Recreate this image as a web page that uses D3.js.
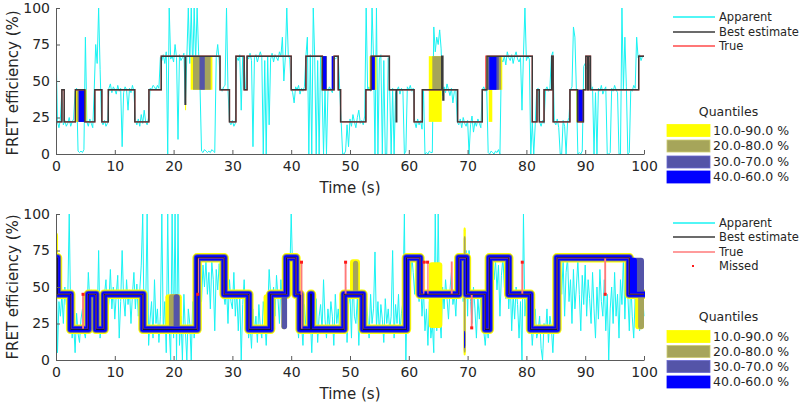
<!DOCTYPE html>
<html><head><meta charset="utf-8">
<script src="https://cdn.jsdelivr.net/npm/d3@7"></script>
<style>
body{margin:0;background:#fff}
svg{display:block}
text{font-family:"DejaVu Sans",sans-serif;fill:#262626}
</style>
</head><body>
<svg id="chart" width="800" height="404"></svg>
<script>
// ---------- data ----------
const timeTicks = [0,10,20,30,40,50,60,70,80,90,100];
const effTicks = [0,25,50,75,100];
const sampleStep = 0.25; // seconds between apparent samples

const topApparent = [
75,22,18,24, 44,20,23,19, 21,25,19,22, 24,43,45,2, 1,2,1,3, 80,22,19,24, 21,18,44,75, 62,100,58,22, 20,23,19,21, 45,48,42,46,
44,41,47,43, 45,5,42,46, 44,30,45,42, 47,43,23,20, 24,19,27,21, 30,22,20,25, 45,44,47,46, 44,47,45,66, 64,68,62,70, 0,100,65,67,
63,75,66,10, 68,64,66,69, 35,66,100,62, 100,58,100,64, 100,70,45,2, 1,3,2,1, 2,1,3,2, 1,66,75,64, 45,43,46,47, 100,44,22,20,
23,19,21,66, 64,68,30,67, 44,45,67,65, 69,64,5,66, 68,63,67,70, 66,0,64,0, 67,20,65,69, 63,68,66,64, 70,67,80,50, 66,100,68,65,
45,42,35,46, 44,47,41,45, 43,46,67,80, 0,68,0,100, 66,0,64,0, 67,44,0,45, 0,43,46,44, 42,67,65,66, 67,44,22,0, 0,2,20,5,
24,19,27,22, 18,25,30,21, 23,20,26,100, 44,46,43,100, 66,0,100,0, 65,68,0,64, 0,0,66,44, 0,45,0,42, 44,46,41,45, 43,0,2,46,
44,47,43,45, 22,18,24,20, 23,17,44,0, 1,0,2,1, 1,87,70,80, 75,85,72,40, 46,42,48,44, 40,45,35,43, 44,22,20,24, 18,25,21,19,
23,0,20,26, 15,22,19,24, 21,18,44,46, 43,44,1,0, 2,1,0,2, 1,3,0,65, 63,67,61,70, 66,64,68,62, 67,70,65,63, 66,30,68,100,
64,67,65,0, 22,0,20,44, 45,22,19,23, 21,44,46,43, 45,67,70,22, 20,24,18,0, 0,23,19,0, 22,25,44,46, 87,80,44,0, 1,0,2,60,
62,58,66,60, 44,46,0,42, 0,45,43,47, 41,44,46,0, 0,1,45,43, 47,44,42,0, 0,100,44,80, 46,0,1,44, 43,47,45,80, 66,68,64,67,
67];

const bottomApparent = [
85,5,40,30, 45,25,50,38, 42,100,30,15, 25,5,32,18, 12,28,35,20, 15,30,60,40, 48,35,45,20, 25,75,15,28, 22,45,55,30, 40,62,35,50,
28,45,58,15, 40,75,42,30, 55,38,48,25, 45,60,35,52, 30,48,65,100, 20,35,100,10, 28,40,15,55, 25,35,12,30, 100,18,40,5, 100,22,0,100,
15,100,0,100, 10,30,0,45, 20,0,35,25, 0,40,15,30, 45,67,55,40, 65,50,68,45, 60,35,67,55, 20,62,48,66, 52,65,45,38, 50,25,55,40,
35,60,30,48, 20,45,0,38, 55,30,42,15, 25,8,35,18, 30,12,38,22, 15,40,28,10, 32,62,45,35, 50,30,58,42, 25,55,38,48, 30,65,70,55,
100,60,45,68, 30,15,40,25, 10,38,22,45, 18,30,5,35, 25,42,12,30, 38,20,55,28, 15,35,22,40, 30,10,45,25, 35,18,28,42, 22,50,12,38,
45,15,60,30, 25,42,10,35, 48,28,20,40, 30,15,45,25, 35,74,22,40, 18,38,28,12, 42,25,35,20, 30,75,15,38, 25,45,18,32, 40,100,0,55,
65,50,72,60, 45,68,55,40, 55,30,48,20, 35,10,40,15, 25,5,100,20, 100,30,15,50, 35,55,42,28, 48,60,38,45, 30,55,65,50, 70,40,60,75,
30,75,40,25, 50,35,15,42, 28,45,38,20, 10,25,15,45, 60,72,55,68, 48,65,30,58, 70,50,42,65, 35,55,20,45, 28,50,38,15, 40,0,100,30,
45,25,18,30, 10,25,35,15, 20,30,8,0, 25,18,35,12, 30,22,5,28, 40,65,55,70, 45,68,30,60, 70,40,55,25, 62,35,50,68, 45,20,58,38,
65,30,55,42, 25,60,35,15, 50,28,62,40, 30,55,20,45, 0,35,50,25, 60,30,45,15, 55,38,70,28, 62,45,20,55, 30,15,42,25, 48,20,35,45,
30];

// step functions: change times and levels
const topBestT = [0,1.0,1.4,3.3,4.9,6.6,7.8,8.9,13.4,15.8,17.9,21.95,22.05,27.9,29.5,30.6,32.0,32.5,40.0,42.5,45.3,47.3,48.0,48.4,52.7,53.6,56.7,57.85,57.95,60.9,62.3,65.6,65.8,65.95,68.3,72.5,73.3,81.0,81.8,82.2,83.0,84.3,84.55,87.4,88.7,89.7,90.1,90.4,90.6,90.9,99.1];
const topBestV = [22,44,22,44,22,44,22,44,22,44,67,34,67,44,22,67,44,67,44,67,44,67,44,22,44,67,44,22,44,22,44,67,37,44,22,44,67,22,44,22,44,67,22,44,22,44,67,44,67,44,67];
const topTrueT = [0,1.0,1.4,3.3,4.9,6.6,7.8,8.9,13.4,15.8,17.9,27.9,29.5,30.6,32.0,32.5,40.0,42.5,45.3,47.3,48.0,48.4,52.7,53.6,56.7,60.9,62.3,68.3,72.5,73.1,81.0,81.8,82.2,83.0,84.3,84.55,87.4,88.7,89.7,90.1,90.4,90.6,90.9,99.1];
const topTrueV = [22,44,22,44,22,44,22,44,22,44,67,44,22,67,44,67,44,67,44,67,44,22,44,67,44,22,44,22,44,67,22,44,22,44,67,22,44,22,44,67,44,67,44,67];

const bottomBestT = [0,0.25,2.5,5.5,6.8,8.2,14.8,24.0,28.6,32.8,36.5,39.2,40.8,41.5,43.3,43.45,49.0,52.2,59.6,61.9,68.5,69.8,73.0,73.7,77.0,80.7,85.2,97.5];
const bottomBestV = [70,45,21,45,21,45,21,70,45,21,45,70,45,21,45,21,45,21,70,45,70,45,21,70,45,21,70,45];
const bottomTrueT = [0,0.25,2.5,4.55,4.65,5.5,6.8,8.2,14.8,24.0,24.2,28.6,32.8,36.5,39.2,40.8,41.7,41.8,49.0,49.2,49.3,52.2,59.6,61.9,62.55,63.25,67.25,67.35,68.5,69.8,70.65,70.75,73.0,73.7,77.0,79.25,79.35,80.7,85.2,93.35,93.45,97.5];
const bottomTrueV = [70,45,21,45,21,45,21,45,21,45,70,45,21,45,70,45,67,21,45,67,45,21,70,45,67,45,67,45,70,45,22,45,21,70,45,67,45,21,70,45,70,45];

const missedT = [4.6,24.1,41.75,49.25,62.6,63.2,70.7,79.3,93.4];
const missedV = [45,45,67,67,67,67,22,67,45];

// quantile boxes: [t start, t end, low, high]
const topQ10_90 = [[0,0.15,33,44],[3.4,5.2,22,44],[21.95,22.1,30,67],[22.9,26.6,44,67],[45.2,46.1,44,67],[53.3,54.5,44,67],[63.4,65.6,22,67],[73.2,75.9,44,67],[73.6,74.2,22,44],[88.5,89.8,22,44]];
const topQ20_80 = [[3.6,5.0,22,44],[23.3,26.3,44,67],[45.3,46.0,44,67],[53.5,54.3,44,67],[64.0,65.6,44,67],[73.3,75.7,44,67],[88.6,89.7,22,44]];
const topQ30_70 = [[3.8,4.9,22,44],[24.4,25.3,44,67],[45.3,46.0,44,67],[46.9,47.3,44,67],[53.6,54.2,44,67],[73.5,75.3,44,67],[88.7,89.7,22,44]];
const topQ40_60 = [[3.9,4.9,22,44],[45.35,46.0,44,67],[46.9,47.3,44,67],[53.6,54.2,44,67],[73.7,74.9,44,67],[88.8,89.6,22,44]];

const bottomQ10_90 = [[0,0.35,45,87],[18.6,21.4,21,45],[35.3,36.6,21,45],[50.0,51.7,45,69],[63.4,65.7,22,67],[69.3,69.7,3,91],[98.5,100,21,45]];
const bottomQ20_80 = [[19.2,21.1,21,45],[38.3,39.2,21,45],[50.5,51.4,45,68],[69.35,69.65,5,85],[99.0,100,21,45]];
const bottomQ30_70 = [[20.0,21.0,21,45],[38.4,39.3,21,45],[72.9,73.7,21,45],[97.5,100,45,70]];
const bottomQ40_60 = [[72.9,73.5,21,45],[97.5,98.8,45,70],[69.4,69.6,8,20]];

const seriesNames = ["Apparent","Best estimate","True"];
const missedName = "Missed";
const quantileTitle = "Quantiles";
const quantileNames = ["10.0-90.0 %","20.0-80.0 %","30.0-70.0 %","40.0-60.0 %"];
const xLabel = "Time (s)";
const yLabel = "FRET efficiency (%)";

// ---------- styles ----------
const C = {cyan:"#19f3f3", best:"#3a3a3a", bestBot:"#14143a", trueTop:"#ff4a4a", trueBot:"#ff7a7a",
  q:["#ffff00","#a6a55a","#5454a8","#0000ff"], axis:"#5a5a5a"};

const svg = d3.select("#chart");
const x = d3.scaleLinear().domain([0,100]).range([56,644]);

function stepPoints(T,V){
  const p = T.map((t,i)=>[t,V[i]]);
  p.push([100,V[V.length-1]]);
  return p;
}

function panel(cfg){
  const y = d3.scaleLinear().domain([0,100]).range([cfg.y0,cfg.y1]);
  const g = svg.append("g");
  const clipId = "clip"+cfg.id;
  svg.append("clipPath").attr("id",clipId).append("rect")
    .attr("x",x(0)).attr("y",y(100)-1).attr("width",x(100)-x(0)+1).attr("height",y(0)-y(100)+1);
  const plot = g.append("g").attr("clip-path",`url(#${clipId})`);

  const line = d3.line().x(d=>x(d[0])).y(d=>y(d[1]));
  const app = cfg.apparent.map((v,i)=>[i*sampleStep,v]);
  plot.append("path").attr("d",line(app)).attr("fill","none")
    .attr("stroke",C.cyan).attr("stroke-width",1).attr("stroke-linejoin","round");

  const step = d3.line().x(d=>x(d[0])).y(d=>y(d[1])).curve(d3.curveStepAfter);
  const bestPts = stepPoints(cfg.bestT,cfg.bestV);

  cfg.quant.forEach((boxes,k)=>{
    plot.append("g").selectAll("rect").data(boxes).join("rect")
      .attr("x",d=>x(d[0])).attr("width",d=>Math.max(1,x(d[1])-x(d[0])))
      .attr("y",d=>y(d[3])).attr("height",d=>y(d[2])-y(d[3]))
      .attr("rx",cfg.round).attr("fill",C.q[k]);
    if(cfg.band){
      plot.append("path").attr("d",step(bestPts)).attr("fill","none")
        .attr("stroke",C.q[k]).attr("stroke-width",cfg.band[k])
        .attr("stroke-linejoin","round").attr("stroke-linecap","round");
    }
  });

  plot.append("path").attr("d",step(stepPoints(cfg.trueT,cfg.trueV))).attr("fill","none")
    .attr("stroke",cfg.trueColor).attr("stroke-width",1.3);
  plot.append("path").attr("d",step(bestPts)).attr("fill","none")
    .attr("stroke",cfg.bestColor).attr("stroke-width",cfg.bestW);

  if(cfg.missedT){
    plot.append("g").selectAll("rect").data(cfg.missedT.map((t,i)=>[t,cfg.missedV[i]])).join("rect")
      .attr("x",d=>x(d[0])-1.5).attr("y",d=>y(d[1])-1.5).attr("width",3).attr("height",3).attr("fill","#ff1a1a");
  }

  const ax = g.append("g").attr("transform",`translate(0,${cfg.y0})`)
    .call(d3.axisBottom(x).tickValues(timeTicks).tickSizeInner(-4).tickSizeOuter(0).tickPadding(7));
  const ay = g.append("g").attr("transform",`translate(${x(0)},0)`)
    .call(d3.axisLeft(y).tickValues(effTicks).tickSizeInner(-4).tickSizeOuter(0).tickPadding(6));
  [ax,ay].forEach(a=>{
    a.select(".domain").attr("stroke",C.axis);
    a.selectAll(".tick line").attr("stroke",C.axis);
    a.selectAll(".tick text").attr("font-size",14).attr("fill","#262626").attr("font-family","DejaVu Sans");
  });
  g.append("text").attr("x",350).attr("y",cfg.y0+39).attr("text-anchor","middle")
    .attr("font-size",15).text(xLabel);
  g.append("text").attr("transform",`translate(18,${cfg.yLabelC}) rotate(-90)`)
    .attr("text-anchor","middle").attr("font-size",15).text(yLabel);

  const L = svg.append("g");
  const names = cfg.missedT ? seriesNames.concat([missedName]) : seriesNames;
  const cols = [C.cyan,C.best,cfg.trueColor];
  names.forEach((n,i)=>{
    const yy = cfg.legY[i];
    if(i<3){
      L.append("line").attr("x1",673).attr("x2",715).attr("y1",yy).attr("y2",yy)
        .attr("stroke",cols[i]).attr("stroke-width",i===1?1.3:1.5);
    } else {
      L.append("rect").attr("x",692).attr("y",yy-1).attr("width",2).attr("height",2).attr("fill","#ff1a1a");
    }
    L.append("text").attr("x",719).attr("y",yy).attr("dy","0.35em").attr("font-size",11.5).text(n);
  });
  L.append("text").attr("x",728.5).attr("y",cfg.qTitleY).attr("dy","0.35em").attr("text-anchor","middle")
    .attr("font-size",12.5).text(quantileTitle);
  quantileNames.forEach((n,i)=>{
    const yy = cfg.qY[i];
    L.append("rect").attr("x",667).attr("y",yy-6).attr("width",43).attr("height",12)
      .attr("fill",C.q[i]).attr("stroke",d3.color(C.q[i]).brighter(0.6)).attr("stroke-width",0.8);
    L.append("text").attr("x",713).attr("y",yy).attr("dy","0.35em").attr("font-size",12.5).text(n);
  });
}

panel({id:"top", y0:154, y1:8, yLabelC:83, apparent:topApparent,
  bestT:topBestT, bestV:topBestV, trueT:topTrueT, trueV:topTrueV, trueColor:C.trueTop,
  quant:[topQ10_90,topQ20_80,topQ30_70,topQ40_60], band:null, round:0, bestW:1.4, bestColor:C.best,
  legY:[17,32,46], qTitleY:112, qY:[130.5,146,162,177]});

panel({id:"bot", y0:360, y1:214, yLabelC:287, apparent:bottomApparent,
  bestT:bottomBestT, bestV:bottomBestV, trueT:bottomTrueT, trueV:bottomTrueV, trueColor:C.trueBot,
  quant:[bottomQ10_90,bottomQ20_80,bottomQ30_70,bottomQ40_60], band:[9.5,7.5,6.5,5], round:3, bestW:1.1, bestColor:C.bestBot,
  missedT:missedT, missedV:missedV,
  legY:[223,237,252,266], qTitleY:317, qY:[336.5,351.5,366.5,382]});
</script>
</body></html>
